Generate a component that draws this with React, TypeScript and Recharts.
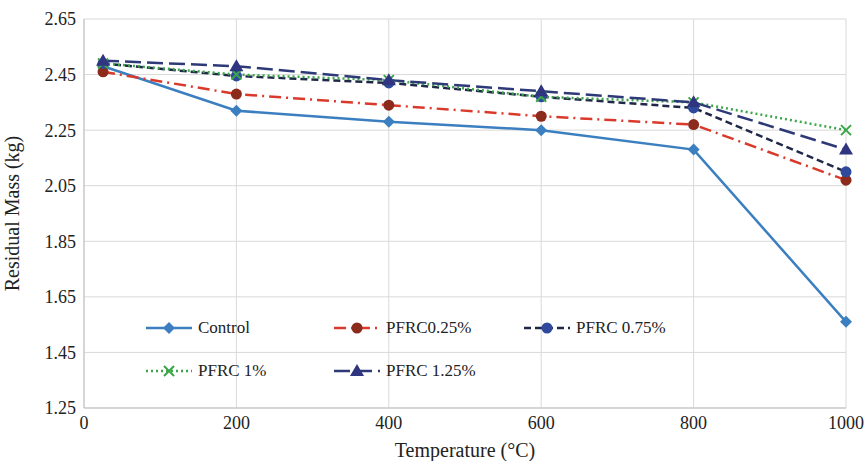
import React from 'react';
import {
  LineChart,
  Line,
  XAxis,
  YAxis,
  CartesianGrid,
  Label,
} from 'recharts';

const temperatures = [25, 200, 400, 600, 800, 1000];
const control = [2.48, 2.32, 2.28, 2.25, 2.18, 1.56];
const pfrc025 = [2.46, 2.38, 2.34, 2.3, 2.27, 2.07];
const pfrc075 = [2.49, 2.445, 2.42, 2.37, 2.33, 2.1];
const pfrc1 = [2.49, 2.45, 2.43, 2.37, 2.35, 2.25];
const pfrc125 = [2.5, 2.48, 2.43, 2.39, 2.35, 2.18];
const xTicks = [0, 200, 400, 600, 800, 1000];
const yTicks = [1.25, 1.45, 1.65, 1.85, 2.05, 2.25, 2.45, 2.65];

const data = temperatures.map((t, i) => ({
  t,
  control: control[i],
  pfrc025: pfrc025[i],
  pfrc075: pfrc075[i],
  pfrc1: pfrc1[i],
  pfrc125: pfrc125[i],
}));

const FONT = '"Liberation Serif", "Times New Roman", serif';

type Shape = 'diamond' | 'circle' | 'x' | 'triangle';

const marker = (shape: Shape, fill: string, cx: number, cy: number, key?: string) => {
  if (shape === 'diamond')
    return (
      <path key={key} d={`M${cx},${cy - 6} L${cx + 6},${cy} L${cx},${cy + 6} L${cx - 6},${cy} Z`} fill={fill} />
    );
  if (shape === 'circle') return <circle key={key} cx={cx} cy={cy} r={5.5} fill={fill} />;
  if (shape === 'triangle')
    return (
      <path key={key} d={`M${cx},${cy - 7} L${cx + 7},${cy + 5} L${cx - 7},${cy + 5} Z`} fill={fill} />
    );
  return (
    <path
      key={key}
      d={`M${cx - 5},${cy - 5} L${cx + 5},${cy + 5} M${cx + 5},${cy - 5} L${cx - 5},${cy + 5}`}
      stroke={fill}
      strokeWidth={2}
      fill="none"
    />
  );
};

const makeDot = (shape: Shape, fill: string) => (props: any) =>
  marker(shape, fill, props.cx, props.cy, `${props.dataKey}-${props.index}`);

const series = [
  { key: 'control', name: 'Control', stroke: '#3b7fc0', dash: undefined, shape: 'diamond' as Shape, mark: '#3b7fc0' },
  { key: 'pfrc025', name: 'PFRC0.25%', stroke: '#d93a2b', dash: '12 5 2 5', shape: 'circle' as Shape, mark: '#8c2a1c' },
  { key: 'pfrc075', name: 'PFRC 0.75%', stroke: '#1f2848', dash: '7 4', shape: 'circle' as Shape, mark: '#2f4a9c' },
  { key: 'pfrc1', name: 'PFRC 1%', stroke: '#3aa648', dash: '2 3', shape: 'x' as Shape, mark: '#3aa648' },
  { key: 'pfrc125', name: 'PFRC 1.25%', stroke: '#2e3a78', dash: '16 6', shape: 'triangle' as Shape, mark: '#2f3580' },
];

const legendPos = [
  { left: 144, top: 318 },
  { left: 332, top: 318 },
  { left: 522, top: 318 },
  { left: 144, top: 361 },
  { left: 332, top: 361 },
];

const LegendItem: React.FC<{ s: (typeof series)[number]; left: number; top: number }> = ({ s, left, top }) => (
  <div style={{ position: 'absolute', left, top, display: 'flex', alignItems: 'center', fontFamily: FONT, fontSize: 17, color: '#222' }}>
    <svg width={50} height={20}>
      <line x1={2} y1={10} x2={48} y2={10} stroke={s.stroke} strokeWidth={2.5} strokeDasharray={s.dash} />
      {marker(s.shape, s.mark, 25, 10)}
    </svg>
    <span style={{ marginLeft: 4 }}>{s.name}</span>
  </div>
);

export default function App() {
  return (
    <div style={{ position: 'absolute', left: 0, top: 0, width: 866, height: 461, background: '#fff' }}>
      <LineChart width={866} height={461} data={data} margin={{ top: 19, right: 20, left: 0, bottom: 0 }}>
        <CartesianGrid stroke="#d9d9d9" strokeWidth={1} />
        <XAxis
          dataKey="t"
          type="number"
          domain={[0, 1000]}
          ticks={xTicks}
          stroke="#bfbfbf"
          tickLine={false}
          tick={{ fill: '#222', fontFamily: FONT, fontSize: 18 }}
          height={53}
        >
          <Label value="Temperature (°C)" position="insideBottom" offset={4} style={{ fill: '#222', fontFamily: FONT, fontSize: 20 }} />
        </XAxis>
        <YAxis
          type="number"
          domain={[1.25, 2.65]}
          ticks={yTicks}
          stroke="#bfbfbf"
          tickLine={false}
          tickFormatter={(v: number) => v.toFixed(2)}
          tick={{ fill: '#222', fontFamily: FONT, fontSize: 18 }}
          width={84}
        >
          <Label
            value="Residual Mass (kg)"
            angle={-90}
            position="insideLeft"
            offset={12}
            style={{ textAnchor: 'middle', fill: '#222', fontFamily: FONT, fontSize: 20 }}
          />
        </YAxis>
        {series.map((s) => (
          <Line
            key={s.key}
            dataKey={s.key}
            name={s.name}
            type="linear"
            stroke={s.stroke}
            strokeWidth={2.5}
            strokeDasharray={s.dash}
            dot={makeDot(s.shape, s.mark)}
            isAnimationActive={false}
          />
        ))}
      </LineChart>
      {series.map((s, i) => (
        <LegendItem key={s.key} s={s} left={legendPos[i].left} top={legendPos[i].top} />
      ))}
    </div>
  );
}
